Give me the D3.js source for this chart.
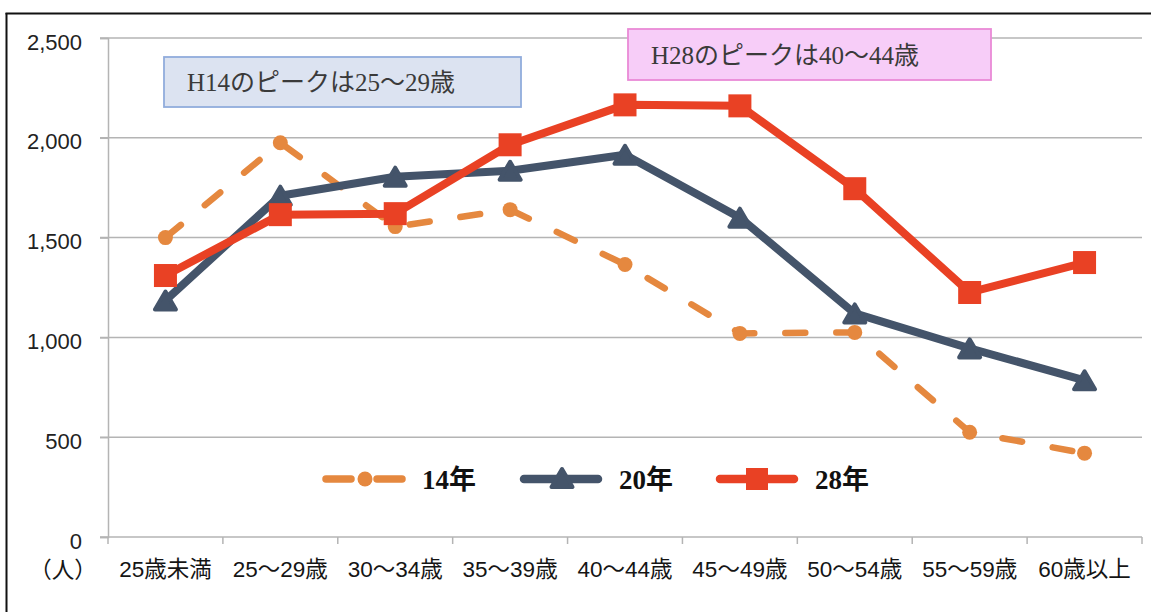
<!DOCTYPE html>
<html>
<head>
<meta charset="utf-8">
<script src="https://cdn.jsdelivr.net/npm/d3@7"></script>
<style>
  html, body { margin: 0; padding: 0; background: #fff; }
  svg { display: block; }
</style>
</head>
<body>
<svg id="chart" width="1151" height="612"></svg>
<script>
const categories = ["25歳未満", "25～29歳", "30～34歳", "35～39歳", "40～44歳", "45～49歳", "50～54歳", "55～59歳", "60歳以上"];
const seriesNames = ["14年", "20年", "28年"];
const values14 = [1500, 1975, 1555, 1640, 1365, 1020, 1025, 525, 420];
const values20 = [1185, 1710, 1805, 1835, 1915, 1600, 1120, 945, 785];
const values28 = [1310, 1615, 1620, 1965, 2165, 2160, 1745, 1225, 1375];
const yTicks = [0, 500, 1000, 1500, 2000, 2500];
const unitLabel = "（人）";
const note14 = "H14のピークは25～29歳";
const note28 = "H28のピークは40～44歳";

const svg = d3.select("#chart");
const W = 1151, H = 612;
const plotLeft = 108, plotRight = 1142, plotTop = 38, plotBottom = 537;

const x = d3.scaleBand().domain(categories).range([plotLeft, plotRight]).paddingInner(0).paddingOuter(0);
const cx = c => x(c) + x.bandwidth() / 2;
const y = d3.scaleLinear().domain([0, 2500]).range([plotBottom, plotTop]);

// Outer frame (left and top edges)
svg.append("line").attr("x1", 6.5).attr("x2", 6.5).attr("y1", 13).attr("y2", H)
  .attr("stroke", "#111").attr("stroke-width", 2);
svg.append("line").attr("x1", 5.5).attr("x2", W).attr("y1", 13.5).attr("y2", 13.5)
  .attr("stroke", "#111").attr("stroke-width", 2);

const gridColor = "#B4B4B4";
// Gridlines
svg.append("g").selectAll("line").data(yTicks).join("line")
  .attr("x1", plotLeft - 8).attr("x2", plotRight)
  .attr("y1", d => y(d)).attr("y2", d => y(d))
  .attr("stroke", gridColor).attr("stroke-width", 1.5);

// Y axis
const yAxis = svg.append("g").attr("transform", `translate(${plotLeft},0)`)
  .call(d3.axisLeft(y).tickValues(yTicks).tickSize(8).tickPadding(18).tickFormat(d3.format(",")));
yAxis.select(".domain").attr("stroke", gridColor).attr("stroke-width", 1.5);
yAxis.selectAll(".tick line").attr("stroke", gridColor).attr("stroke-width", 1.5);
yAxis.selectAll(".tick text")
  .attr("font-family", "'Liberation Sans', Arial, sans-serif")
  .attr("font-size", 22).attr("fill", "#222").attr("dy", "0.5em");

// X axis labels
const xAxis = svg.append("g").attr("transform", `translate(0,${plotBottom})`)
  .call(d3.axisBottom(x).tickSize(0).tickPadding(24));
xAxis.select(".domain").remove();
xAxis.selectAll(".tick text")
  .attr("font-family", "'Liberation Sans', 'Noto Sans CJK JP', sans-serif")
  .attr("font-size", 22.5).attr("fill", "#151515");
// Boundary ticks
const bounds = categories.map(c => x(c)).concat([x.range()[1]]);
svg.append("g").selectAll("line").data(bounds).join("line")
  .attr("x1", d => d).attr("x2", d => d).attr("y1", plotBottom).attr("y2", plotBottom + 7)
  .attr("stroke", gridColor).attr("stroke-width", 1.5);

svg.append("text").attr("x", 63).attr("y", 570).attr("dy", "0.35em")
  .attr("text-anchor", "middle")
  .attr("font-family", "'Noto Sans CJK JP', sans-serif")
  .attr("font-size", 22.5).attr("fill", "#151515").text(unitLabel);

// Annotation boxes
function note(x0, y0, w, h, fill, stroke, txt) {
  svg.append("rect").attr("x", x0).attr("y", y0).attr("width", w).attr("height", h)
    .attr("fill", fill).attr("stroke", stroke).attr("stroke-width", 1.8);
  svg.append("text").attr("x", x0 + 23).attr("y", y0 + h / 2).attr("dy", "0.36em")
    .attr("font-family", "'Liberation Serif', 'Noto Sans CJK JP', serif")
    .attr("font-size", 25).attr("fill", "#3a3a3a").text(txt);
}
note(164, 57, 357, 50, "#DCE3F1", "#91ACDC", note14);
note(628, 29, 363, 51, "#F7CDF8", "#E98AD6", note28);

// Series
const colors = ["#E5883F", "#44546A", "#E94124"];

const line = d3.line().x((d, i) => cx(categories[i])).y(d => y(d));

function triPath(w, h) {
  return d3.line()([[0, -h / 2], [w / 2, h / 2], [-w / 2, h / 2]]) + "Z";
}

// 14年
const g14 = svg.append("g");
g14.append("path").datum(values14).attr("d", line)
  .attr("fill", "none").attr("stroke", colors[0]).attr("stroke-width", 6.5)
  .attr("stroke-linecap", "round").attr("stroke-dasharray", "20,31");
g14.selectAll("circle").data(values14).join("circle")
  .attr("cx", (d, i) => cx(categories[i])).attr("cy", d => y(d)).attr("r", 7.5)
  .attr("fill", colors[0]);

// 20年
const g20 = svg.append("g");
g20.append("path").datum(values20).attr("d", line)
  .attr("fill", "none").attr("stroke", colors[1]).attr("stroke-width", 8)
  .attr("stroke-linejoin", "round");
g20.selectAll("path.m").data(values20).join("path").attr("class", "m")
  .attr("transform", (d, i) => `translate(${cx(categories[i])},${y(d)})`)
  .attr("d", triPath(21, 18))
  .attr("fill", colors[1]).attr("stroke", colors[1]).attr("stroke-width", 4)
  .attr("stroke-linejoin", "round");

// 28年
const g28 = svg.append("g");
g28.append("path").datum(values28).attr("d", line)
  .attr("fill", "none").attr("stroke", colors[2]).attr("stroke-width", 8)
  .attr("stroke-linejoin", "round");
g28.selectAll("rect").data(values28).join("rect")
  .attr("x", (d, i) => cx(categories[i]) - 11.5).attr("y", d => y(d) - 11.5)
  .attr("width", 23).attr("height", 23).attr("fill", colors[2]);

// Legend
const legendX = [323, 520, 716];
const legendY = 479;
const lg = svg.append("g");
seriesNames.forEach((name, k) => {
  const x0 = legendX[k];
  const g = lg.append("g").attr("transform", `translate(${x0},${legendY})`);
  if (k === 0) {
    g.append("line").attr("x1", 3).attr("x2", 28).attr("stroke", colors[0])
      .attr("stroke-width", 7.5).attr("stroke-linecap", "round");
    g.append("line").attr("x1", 54).attr("x2", 79).attr("stroke", colors[0])
      .attr("stroke-width", 7.5).attr("stroke-linecap", "round");
    g.append("circle").attr("cx", 42).attr("r", 7.5).attr("fill", colors[0]);
  } else {
    g.append("line").attr("x1", 4).attr("x2", 78).attr("stroke", colors[k])
      .attr("stroke-width", 8.5).attr("stroke-linecap", "round");
    if (k === 1) {
      g.append("path").attr("transform", "translate(42,-1)").attr("d", triPath(21, 18))
        .attr("fill", colors[1]).attr("stroke", colors[1]).attr("stroke-width", 4)
        .attr("stroke-linejoin", "round");
    } else {
      g.append("rect").attr("x", 41 - 11).attr("y", -11).attr("width", 22).attr("height", 22)
        .attr("fill", colors[2]);
    }
  }
  g.append("text").attr("x", 99).attr("dy", "0.36em")
    .attr("font-family", "'Liberation Serif', 'Noto Sans CJK JP', serif")
    .attr("font-weight", "bold").attr("font-size", 27).attr("fill", "#111").text(name);
});
</script>
</body>
</html>
